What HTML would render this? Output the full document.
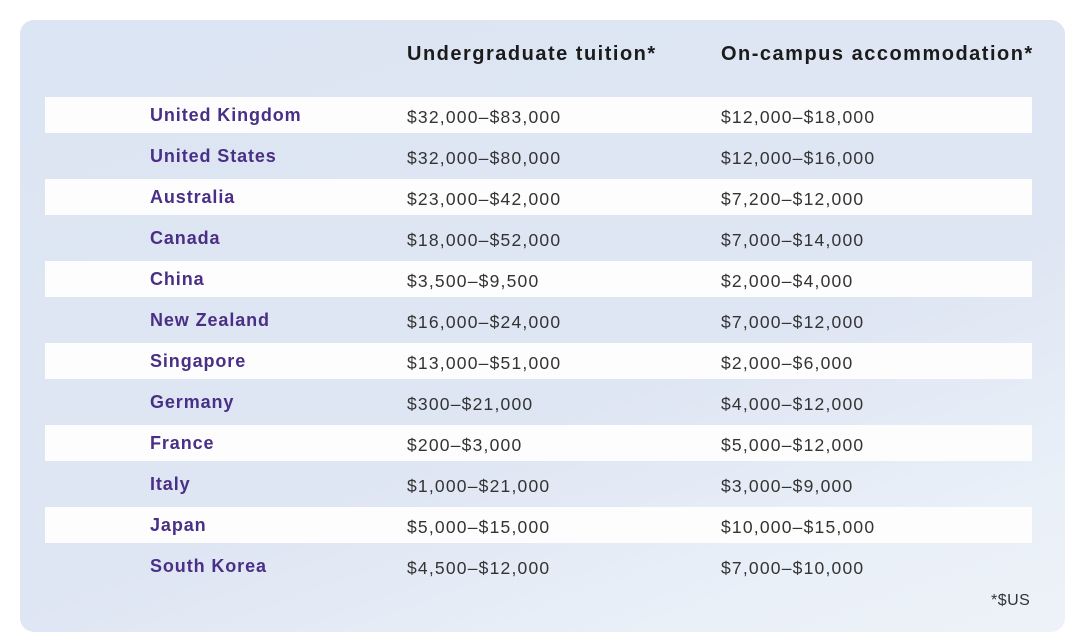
<!DOCTYPE html>
<html><head><style>
body{margin:0;width:1080px;height:636px;background:#fff;position:relative;overflow:hidden;font-family:"Liberation Sans",sans-serif}
.card{position:absolute;left:20px;top:20px;width:1045px;height:612px;border-radius:14px;background:linear-gradient(160deg,#dce5f3 0%,#dfe6f3 60%,#eaf0f8 85%,#edf2f8 100%)}
.h{position:absolute;top:43px;font-weight:bold;font-size:20px;letter-spacing:1.5px;color:#1b1b1b}
.row{position:absolute;left:45px;width:987px;height:36px}
.w{background:#fdfdfe}
.t{position:absolute;font-size:17.5px;letter-spacing:1.2px;color:#333;line-height:20px}
.c{position:absolute;left:150px;font-size:18px;letter-spacing:0.9px;font-weight:bold;color:#4a2f86;line-height:20px}
</style></head><body>
<div class="card"></div>
<div class="h" style="left:407px">Undergraduate tuition*</div>
<div class="h" style="left:721px">On-campus accommodation*</div>
<div class="row w" style="top:97px"></div>
<div class="row w" style="top:179px"></div>
<div class="row w" style="top:261px"></div>
<div class="row w" style="top:343px"></div>
<div class="row w" style="top:425px"></div>
<div class="row w" style="top:507px"></div>
<div class="c" style="top:105px">United Kingdom</div><div class="t" style="left:407px;top:107px">$32,000–$83,000</div><div class="t" style="left:721px;top:107px">$12,000–$18,000</div>
<div class="c" style="top:146px">United States</div><div class="t" style="left:407px;top:148px">$32,000–$80,000</div><div class="t" style="left:721px;top:148px">$12,000–$16,000</div>
<div class="c" style="top:187px">Australia</div><div class="t" style="left:407px;top:189px">$23,000–$42,000</div><div class="t" style="left:721px;top:189px">$7,200–$12,000</div>
<div class="c" style="top:228px">Canada</div><div class="t" style="left:407px;top:230px">$18,000–$52,000</div><div class="t" style="left:721px;top:230px">$7,000–$14,000</div>
<div class="c" style="top:269px">China</div><div class="t" style="left:407px;top:271px">$3,500–$9,500</div><div class="t" style="left:721px;top:271px">$2,000–$4,000</div>
<div class="c" style="top:310px">New Zealand</div><div class="t" style="left:407px;top:312px">$16,000–$24,000</div><div class="t" style="left:721px;top:312px">$7,000–$12,000</div>
<div class="c" style="top:351px">Singapore</div><div class="t" style="left:407px;top:353px">$13,000–$51,000</div><div class="t" style="left:721px;top:353px">$2,000–$6,000</div>
<div class="c" style="top:392px">Germany</div><div class="t" style="left:407px;top:394px">$300–$21,000</div><div class="t" style="left:721px;top:394px">$4,000–$12,000</div>
<div class="c" style="top:433px">France</div><div class="t" style="left:407px;top:435px">$200–$3,000</div><div class="t" style="left:721px;top:435px">$5,000–$12,000</div>
<div class="c" style="top:474px">Italy</div><div class="t" style="left:407px;top:476px">$1,000–$21,000</div><div class="t" style="left:721px;top:476px">$3,000–$9,000</div>
<div class="c" style="top:515px">Japan</div><div class="t" style="left:407px;top:517px">$5,000–$15,000</div><div class="t" style="left:721px;top:517px">$10,000–$15,000</div>
<div class="c" style="top:556px">South Korea</div><div class="t" style="left:407px;top:558px">$4,500–$12,000</div><div class="t" style="left:721px;top:558px">$7,000–$10,000</div>
<div class="t" style="left:991px;top:591px;font-size:16px;letter-spacing:0.5px">*$US</div>
</body></html>
